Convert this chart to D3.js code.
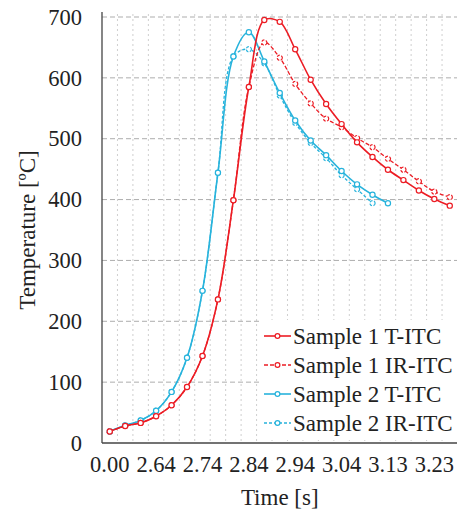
<!DOCTYPE html>
<html lang="en">
<head>
<meta charset="utf-8">
<title></title>
<script src="https://d3js.org/d3.v7.min.js"></script>
<style type="text/css">
body { margin: 0; background: #fff; }
text { font-family: "Liberation Serif", "Times New Roman", serif; fill: #222; }
.grid-h { stroke: #adadad; stroke-width: 1; stroke-dasharray: 5,3; }
.grid-v { stroke: #cfcfcf; stroke-width: 1; stroke-dasharray: 2,3; }
.axis-line { stroke: #444; stroke-width: 1.3; }
</style>
</head>
<body>
<svg width="457" height="515"></svg>
<script>

// category positions on the x axis (one per measurement step)
var nCats = 23
var tickLabels = ["0.00", "2.64", "2.74", "2.84", "2.94", "3.04", "3.13", "3.23"]
var tickEvery = 3

var yTicks = [0, 100, 200, 300, 400, 500, 600, 700]

var s1T  = [19, 28, 33, 44, 62, 92, 143, 236, 399, 585, 695, 692, 647, 597, 557, 524, 494, 470, 449, 432, 415, 401, 390]
var s1IR = [19, 28, 33, 44, 62, 92, 143, 236, 399, 585, 658, 633, 590, 558, 533, 519, 501, 486, 467, 449, 430, 413, 404]
var s2T  = [19, 29, 37, 53, 84, 140, 250, 444, 635, 675, 627, 575, 530, 497, 473, 447, 425, 408, 394]
var s2IR = [19, 29, 37, 53, 84, 140, 250, 444, 635, 647, 624, 571, 526, 493, 468, 440, 417, 394]

var seriesNames = ["Sample 1 T-ITC", "Sample 1 IR-ITC", "Sample 2 T-ITC", "Sample 2 IR-ITC"]
var seriesColors = ["#ec1c24", "#ec1c24", "#27b3dc", "#27b3dc"]
var seriesDash = [null, "4,2", null, "3,2"]
var seriesValues = [s1T, s1IR, s2T, s2IR]

var svg = d3.select("svg")

var plotLeft = 102, plotRight = 457.5, plotTop = 17, plotBottom = 443

var xScale = d3.scaleBand()
    .domain(d3.range(nCats))
    .range([plotLeft, plotRight])
    .padding(0)

var yScale = d3.scaleLinear()
    .domain([0, 700])
    .range([plotBottom, plotTop])

// vertical grid between categories
svg.append("g")
  .selectAll("line")
  .data(d3.range(1, nCats + 1))
  .enter().append("line")
    .attr("class", "grid-v")
    .attr("x1", d => plotLeft + d * xScale.bandwidth())
    .attr("x2", d => plotLeft + d * xScale.bandwidth())
    .attr("y1", plotTop - 3)
    .attr("y2", plotBottom)

// horizontal grid
svg.append("g")
  .selectAll("line")
  .data(yTicks.slice(1))
  .enter().append("line")
    .attr("class", "grid-h")
    .attr("x1", plotLeft)
    .attr("x2", plotRight)
    .attr("y1", d => yScale(d))
    .attr("y2", d => yScale(d))

// axes
var yAxis = svg.append("g")
    .attr("transform", `translate(${plotLeft},0)`)
    .call(d3.axisLeft(yScale).tickValues(yTicks).tickSize(0).tickPadding(20))
yAxis.select(".domain").remove()
yAxis.selectAll("text").style("font-size", "22.5px").attr("fill", "#222")

var xAxis = svg.append("g")
    .attr("transform", `translate(0,${plotBottom})`)
    .call(d3.axisBottom(xScale)
      .tickValues(d3.range(0, nCats, tickEvery))
      .tickFormat(d => tickLabels[d / tickEvery])
      .tickSize(0).tickPadding(13))
xAxis.select(".domain").remove()
xAxis.selectAll("text").style("font-size", "22.5px").attr("fill", "#222")

svg.append("line").attr("class", "axis-line")
    .attr("x1", plotLeft).attr("x2", plotLeft).attr("y1", plotTop - 5).attr("y2", plotBottom)
svg.append("line").attr("class", "axis-line")
    .attr("x1", plotLeft).attr("x2", plotRight).attr("y1", plotBottom).attr("y2", plotBottom)

// axis titles
svg.append("text")
    .attr("x", (plotLeft + plotRight) / 2)
    .attr("y", 505)
    .attr("text-anchor", "middle")
    .style("font-size", "23px")
    .text("Time [s]")

svg.append("text")
    .attr("transform", `translate(35,${(plotTop + plotBottom) / 2}) rotate(-90)`)
    .attr("text-anchor", "middle")
    .style("font-size", "23px")
    .text("Temperature [ºC]")

// series
var line = d3.line()
    .defined(d => d != null)
    .x((d, i) => xScale(i) + xScale.bandwidth() / 2)
    .y(d => yScale(d))
    .curve(d3.curveCatmullRom.alpha(0.5))

// draw sample 1 on top of sample 2 as in the reference
var order = [3, 2, 1, 0]
order.forEach(function(k) {
  var g = svg.append("g")
  g.append("path")
      .datum(seriesValues[k])
      .attr("fill", "none")
      .attr("stroke", seriesColors[k])
      .attr("stroke-width", seriesDash[k] ? 1.3 : 1.6)
      .attr("stroke-dasharray", seriesDash[k])
      .attr("d", line)
  g.selectAll("circle")
    .data(seriesValues[k])
    .enter().append("circle")
      .attr("cx", (d, i) => xScale(i) + xScale.bandwidth() / 2)
      .attr("cy", d => yScale(d))
      .attr("r", 2.6)
      .attr("fill", "#fff")
      .attr("stroke", seriesColors[k])
      .attr("stroke-width", 1.2)
      .attr("stroke-dasharray", seriesDash[k] ? "3,1.5" : null)
})

// legend
var legend = svg.append("g")
legend.append("rect")
    .attr("x", 259).attr("y", 320)
    .attr("width", 198).attr("height", 120)
    .attr("fill", "#fff")

seriesNames.forEach(function(name, k) {
  var cy = 336 + k * 29
  legend.append("line")
      .attr("x1", 264).attr("x2", 291)
      .attr("y1", cy).attr("y2", cy)
      .attr("stroke", seriesColors[k])
      .attr("stroke-width", seriesDash[k] ? 1.3 : 1.6)
      .attr("stroke-dasharray", seriesDash[k])
  legend.append("circle")
      .attr("cx", 277.5).attr("cy", cy).attr("r", 2.4)
      .attr("fill", "#fff")
      .attr("stroke", seriesColors[k])
      .attr("stroke-width", 1.2)
  legend.append("text")
      .attr("x", 293).attr("y", cy)
      .attr("dy", "0.35em")
      .style("font-size", "23px")
      .text(name)
})

</script>
</body>
</html>
